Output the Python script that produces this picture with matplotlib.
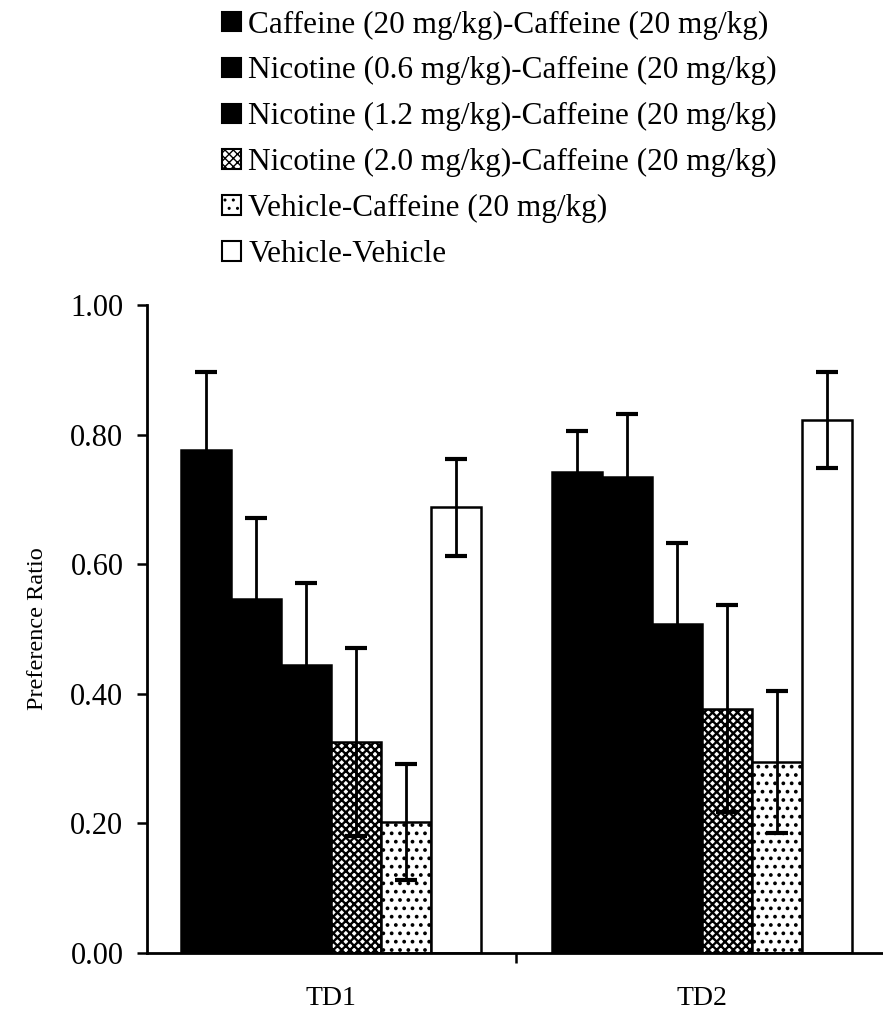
import numpy as np
import matplotlib.pyplot as plt
from matplotlib.patches import Patch

plt.rcParams['font.family'] = ['Liberation Serif', 'DejaVu Serif']

# test days and treatment groups
days = ["TD1", "TD2"]
groups = ["Caffeine (20 mg/kg)-Caffeine (20 mg/kg)",
          "Nicotine (0.6 mg/kg)-Caffeine (20 mg/kg)",
          "Nicotine (1.2 mg/kg)-Caffeine (20 mg/kg)",
          "Nicotine (2.0 mg/kg)-Caffeine (20 mg/kg)",
          "Vehicle-Caffeine (20 mg/kg)",
          "Vehicle-Vehicle"]

# mean preference ratio, one list per day (same order as groups)
td1_mean = [0.777, 0.546, 0.445, 0.325, 0.202, 0.688]
td2_mean = [0.742, 0.735, 0.508, 0.377, 0.295, 0.822]
# SEM
td1_sem = [0.120, 0.125, 0.126, 0.145, 0.090, 0.075]
td2_sem = [0.063, 0.097, 0.125, 0.160, 0.110, 0.074]

y_ticks = [0.0, 0.2, 0.4, 0.6, 0.8, 1.0]

# fill styles for each group
faces = ["black", "black", "black", "white", "white", "white"]
hatches = [None, None, None, "xxxx", "..", None]
hatch_lw = [1.0, 1.0, 1.0, 1.7, 1.5, 1.0]

means = np.array([td1_mean, td2_mean])
sems = np.array([td1_sem, td2_sem])


def hatched_patch(artist, lw):
    # hatch width is per patch in recent matplotlib
    if hasattr(artist, "set_hatch_linewidth"):
        artist.set_hatch_linewidth(lw)


fig = plt.figure(figsize=(8.83, 10.17), dpi=100)
ax = fig.add_axes([0.1665, 0.063, 0.834, 0.637])

width = 0.135
x = np.arange(len(days))
n = len(groups)
for i in range(n):
    pos = x + (i - (n - 1) / 2) * width
    with plt.rc_context({"hatch.linewidth": hatch_lw[i]}):
        bars = ax.bar(pos, means[:, i], width, color=faces[i], edgecolor="black",
                      hatch=hatches[i], linewidth=1.8, zorder=2)
    for b in bars:
        hatched_patch(b, hatch_lw[i])
    ax.errorbar(pos, means[:, i], yerr=sems[:, i], fmt="none", ecolor="black",
                elinewidth=2, capsize=8, capthick=3, zorder=3)

ax.set_xlim(-0.496, 1.49)
ax.set_ylim(0, 1.0)
ax.set_yticks(y_ticks)
ax.set_yticklabels(["%.2f" % v for v in y_ticks], fontsize=22)
ax.set_xticks(x)
ax.set_xticklabels(days, fontsize=20)
ax.set_xticks([0.5], minor=True)
ax.tick_params(axis="x", which="major", length=0, pad=24)
ax.tick_params(axis="x", which="minor", length=7, width=1.8, direction="out")
ax.tick_params(axis="y", length=7, width=1.8, direction="out", pad=10)
ax.set_ylabel("Preference Ratio", fontsize=17.5, labelpad=16)

for side in ["top", "right"]:
    ax.spines[side].set_visible(False)
for side in ["left", "bottom"]:
    ax.spines[side].set_linewidth(2)

handles = []
for i in range(n):
    with plt.rc_context({"hatch.linewidth": hatch_lw[i]}):
        h = Patch(facecolor=faces[i], edgecolor="black", hatch=hatches[i], linewidth=1.5)
    hatched_patch(h, hatch_lw[i])
    handles.append(h)
fig.legend(handles, groups, loc="upper left", bbox_to_anchor=(0.237, 1.002),
           frameon=False, fontsize=22.5, handlelength=0.6, handleheight=0.6,
           handletextpad=0.25, labelspacing=0.54, borderaxespad=0)

fig.savefig("out.png", dpi=100)
